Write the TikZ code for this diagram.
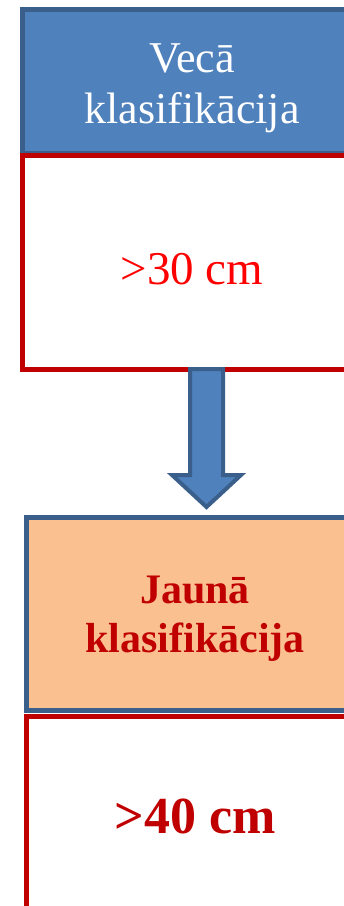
\documentclass[tikz,border=0pt]{standalone}
\usepackage{fontspec}
\setmainfont{Liberation Serif}
\usetikzlibrary{calc}
\usetikzlibrary{positioning}
\definecolor{custom-blue}{RGB}{79, 129, 189}
\definecolor{custom-darkblue}{RGB}{58, 95, 139}
\definecolor{custom-red}{RGB}{192, 0, 0}
\definecolor{custom-brightred}{RGB}{255, 0, 0}
\definecolor{custom-orange}{RGB}{250, 192, 144}
\tikzset{
  headbox/.style={rectangle, draw=custom-darkblue, line width=5pt, inner sep=0pt},
  valuebox/.style={rectangle, draw=custom-red, fill=white, line width=5pt, inner sep=0pt},
  boxtext/.style={align=center, inner sep=0pt},
  bigarrow/.style={fill=custom-blue, draw=custom-darkblue, line width=4pt, line join=miter},
}

\begin{document}
\begin{tikzpicture}[x=1pt, y=-1pt]
\useasboundingbox (0,0) rectangle (344,906);
\clip (0,0) rectangle (344,906);
% old classification
\node[headbox, fill=custom-blue, minimum width=339pt, minimum height=143.5pt] (old) at (192,81.25) {};
\node[valuebox, below=-3pt of old, minimum width=339pt, minimum height=214.5pt] (oldval) {};
\node[boxtext, text=white, font=\fontsize{44}{51}\selectfont] (oldtext) at ([yshift=-7pt]old.center) {Vecā\\klasifikācija};
\node[boxtext, text=custom-brightred, font=\fontsize{47}{55}\selectfont] (oldvaltext) at ([yshift=-7pt]oldval.center) {>30 cm};
% new classification
\node[headbox, fill=custom-orange, minimum width=337pt, minimum height=192.5pt] (new) at (195,613.75) {};
\node[valuebox, below=1.5pt of new, minimum width=337pt, minimum height=199pt] (newval) {};
\node[boxtext, text=custom-red, font=\fontsize{42}{49}\selectfont\bfseries] (newtext) at ([yshift=-5pt]new.center) {Jaunā\\klasifikācija};
\node[boxtext, text=custom-red, font=\fontsize{52}{60}\selectfont\bfseries] (newvaltext) at (newval.center) {>40 cm};
% arrow between them
\coordinate (arrowtop) at (206.5,369);
\coordinate (arrowtip) at (206.5,507);
\filldraw[bigarrow] (arrowtop) ++(-16.5,0) -- ++(33,0) -- ++(0,106) -- ++(18,0) -- (arrowtip)
  -- ++(-34.5,-32) -- ++(18,0) -- cycle;
\end{tikzpicture}
\end{document}
